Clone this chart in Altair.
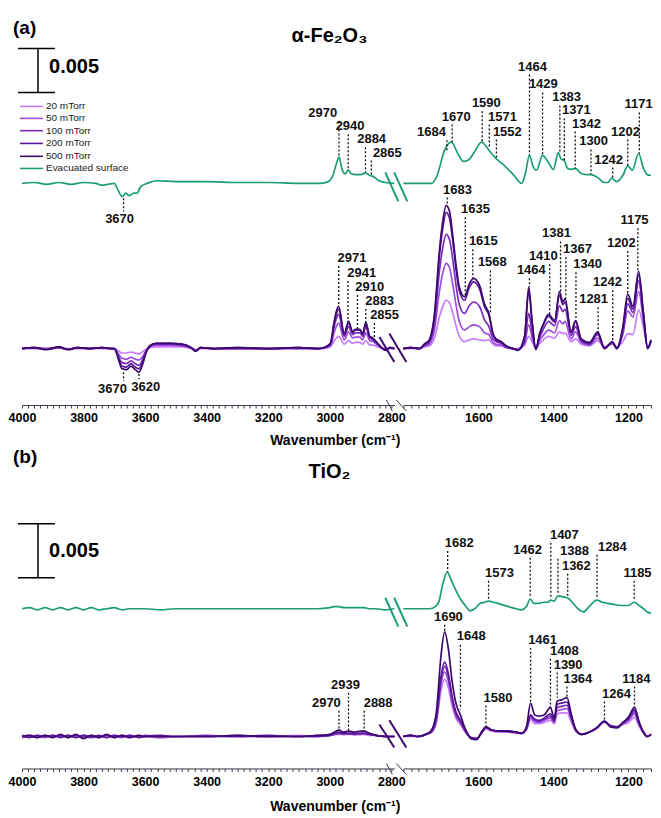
import altair as alt
import pandas as pd

FONT = "Liberation Sans"
SERIES = ["20 mTorr", "50 mTorr", "100 mTorr", "200 mTorr", "500 mTorr", "Evacuated surface"]
COLORS = ["#c77dff", "#9d4edd", "#7b2cbf", "#5a189a", "#3c096c", "#1b9e77"]

LEFT_DOMAIN = [2790, 4000]
RIGHT_DOMAIN = [1140, 1800]
LEFT_W, RIGHT_W, GAP = 373, 248, 9
LEFT_LABELS = [4000, 3800, 3600, 3400, 3200, 3000, 2800]
RIGHT_LABELS = [1600, 1400, 1200]
MINOR_STEP = 20

# ---------------- panel (a) alpha-Fe2O3 : absorbance in units of 1e-4 ----------------
A_L_WN = [4000, 3960, 3920, 3880, 3850, 3820, 3780, 3740, 3710, 3700, 3685, 3675, 3660, 3646, 3632, 3620,
          3610, 3598, 3585, 3565, 3520, 3480, 3450, 3435, 3420, 3380, 3300, 3200, 3100, 3040, 3020, 2998,
          2987, 2979, 2971, 2953, 2939, 2925, 2918, 2902, 2893, 2883, 2870, 2860, 2844, 2828, 2817, 2805, 2790]
A_L_20 = [0, 0, 0, 1, 0, 0, 0, 0, 0, 0, -3, -5, -5, -4, -5, -6, -4, -1, 1, 2, 2, 2, 0, -1, 0, 0, 0, 0, 0, 0,
          0, 2, 8, 12, 14, 5, 9, 6, 7, 7, 5, 9, 4, 4, 2, 0, 0, 0, 0]
A_L_50 = [0, 1, 0, 1, -1, 1, 0, 1, 0, 0, -7, -11, -12, -10, -12, -13, -10, -3, 2, 4, 4, 3, 1, -2, 1, 0, 0, 0, 0, 0,
          1, 3, 17, 25, 29, 10, 19, 12, 13, 13, 10, 18, 9, 8, 4, 0, -1, 1, 0]
A_L_100 = [0, 1, -1, 1, -1, 1, 0, 1, 0, 0, -10, -16, -17, -14, -17, -19, -14, -4, 2, 5, 5, 4, 1, -2, 1, 0, 0, 0, 1, 0,
           1, 5, 23, 34, 39, 14, 25, 16, 18, 18, 14, 25, 12, 10, 5, 0, -1, 1, 0]
A_L_200 = [0, 1, -1, 2, -1, 1, 0, 1, 0, 0, -12, -20, -21, -17, -21, -23, -17, -5, 3, 6, 6, 5, 1, -3, 1, 0, 1, 0, 1, 0,
           1, 5, 26, 39, 45, 16, 29, 18, 21, 21, 16, 28, 13, 11, 5, 0, -2, 1, 0]
A_L_500 = [0, 1, -1, 2, -1, 1, 0, 1, 0, 0, -14, -23, -24, -20, -24, -27, -20, -6, 3, 6, 6, 5, 1, -3, 1, 0, 1, 0, 1, 0,
           1, 6, 28, 42, 48, 17, 31, 19, 22, 22, 17, 30, 14, 12, 6, 0, -2, 1, 0]

A_R_WN = [1800, 1780, 1757, 1744, 1731, 1717, 1704, 1695, 1686, 1677, 1668, 1659, 1651, 1637, 1624, 1613, 1597,
          1584, 1572, 1561, 1553, 1539, 1526, 1508, 1495, 1477, 1466, 1457, 1447, 1437, 1427, 1413, 1397, 1384,
          1375, 1369, 1353, 1341, 1326, 1304, 1282, 1264, 1243, 1231, 1215, 1202, 1188, 1173, 1160, 1149, 1140]
A_R_20 = [0, 0, 0, 2, 3, 12, 36, 48, 55, 52, 40, 25, 14, 8, 10, 11, 10, 9, 10, 5, 3, 3, 1, 0, 0, 4, 14, 8, 1, 6,
          10, 14, 12, 19, 17, 18, 8, 11, 5, 3, 9, 2, 5, 2, 8, 17, 16, 44, 24, 2, 6]
A_R_50 = [0, 1, 0, 3, 5, 22, 65, 86, 97, 92, 72, 48, 31, 21, 25, 27, 25, 18, 16, 7, 5, 4, 1, 0, -1, 6, 27, 13, 0, 9,
          15, 21, 18, 32, 28, 31, 11, 19, 7, 4, 12, 1, 6, 1, 16, 43, 36, 65, 31, 1, 8]
A_R_100 = [0, 1, 0, 4, 7, 30, 88, 115, 130, 124, 100, 70, 50, 40, 49, 53, 48, 33, 25, 11, 8, 6, 2, 0, -1, 8, 40, 19,
           0, 12, 22, 31, 26, 49, 42, 45, 15, 25, 9, 5, 16, 1, 7, 1, 20, 51, 41, 77, 36, 1, 9]
A_R_200 = [0, 1, 0, 5, 9, 37, 105, 137, 155, 148, 121, 88, 66, 55, 70, 76, 68, 48, 38, 16, 10, 7, 3, 0, -2, 13, 65,
           30, -1, 16, 27, 37, 30, 61, 50, 53, 18, 31, 10, 6, 18, 0, 7, 0, 23, 57, 45, 84, 38, 0, 9]
A_R_500 = [0, 1, 0, 5, 10, 40, 111, 145, 163, 156, 127, 93, 70, 59, 74, 80, 72, 51, 40, 17, 11, 8, 3, 0, -2, 14, 70,
           32, -1, 17, 28, 39, 32, 65, 53, 57, 19, 32, 11, 7, 19, 0, 8, 0, 25, 62, 48, 88, 40, 0, 10]

A_EVAC_L_WN = [4000, 3960, 3920, 3880, 3840, 3800, 3760, 3742, 3720, 3700, 3690, 3674, 3663, 3652, 3636, 3626,
               3615, 3594, 3562, 3500, 3400, 3300, 3200, 3100, 3030, 3005, 2990, 2978, 2970, 2960, 2950, 2940,
               2930, 2915, 2900, 2884, 2870, 2860, 2840, 2820, 2790]
A_EVAC_L = [0, 1, -1, 1, -1, 1, 0, -2, -1, 0, -6, -15, -11, -14, -11, -11, -4, 0, 3, 2, 2, 1, 1, 0, 0, 2, 9, 23,
            30, 16, 11, 15, 11, 10, 10, 12, 9, 8, 3, 1, 0]
A_EVAC_R_WN = [1800, 1760, 1725, 1710, 1691, 1672, 1655, 1640, 1629, 1610, 1592, 1576, 1565, 1552, 1530, 1505,
               1485, 1475, 1464, 1455, 1445, 1429, 1415, 1400, 1387, 1380, 1371, 1362, 1352, 1342, 1325, 1310,
               1300, 1280, 1265, 1255, 1245, 1232, 1215, 1202, 1190, 1173, 1160, 1150, 1140]
A_EVAC_R = [0, 0, 0, 9, 37, 47, 34, 25, 26, 36, 47, 40, 34, 28, 20, 9, 0, 11, 32, 20, 15, 32, 25, 16, 35, 28, 26,
            17, 16, 17, 11, 10, 10, 6, 1, 1, 6, 2, 9, 20, 15, 34, 17, 10, 9]
A_EVAC_OFFSET = 188

# peak labels, panel (a)
A_PL_PEAKS = [2971, 2941, 2910, 2883, 2855]
A_PL_LX = [2928, 2896, 2870, 2838, 2822]
A_PL_LY = [103, 86, 70, 54, 38]
A_PL_TOP = [94, 77, 61, 45, 29]
A_PL_BOT = [48, 30, 21, 29, 13]
A_PD_PEAKS = [3670, 3620]
A_PD_LX = [3706, 3598]
A_PD_LY = [-46, -44]
A_PD_TOP = [-27, -29]
A_PD_BOT = [-37, -35]
A_PR_PEAKS = [1683, 1635, 1615, 1568, 1464, 1410, 1381, 1367, 1340, 1281, 1242, 1202, 1175]
A_PR_LX = [1656, 1608, 1587, 1563, 1459, 1427, 1392, 1336, 1309, 1293, 1256, 1219, 1184]
A_PR_LY = [181, 158.5, 122, 98, 89, 105, 131, 113, 96, 56, 75.6, 120, 146]
A_PR_TOP = [172, 149.4, 113, 89, 80, 96, 122, 104, 87, 47, 66.5, 111, 137]
A_PR_BOT = [163, 58.5, 80, 40.3, 70, 38, 63, 57, 32, 17.6, 7.4, 62, 87]
A_GL_PEAKS = [2970, 2940, 2884, 2865]
A_GL_LX = [3023, 2934, 2864, 2813]
A_GL_LY = [267.6, 252.8, 238, 223]
A_GL_TOP = [258.5, 243.8, 229, 214]
A_GL_BOT = [218.8, 202.8, 200.6, 197]
A_GD_PEAKS = [3670]
A_GD_LX = [3683]
A_GD_LY = [147]
A_GD_TOP = [171]
A_GD_BOT = [156]
A_GR_PEAKS = [1684, 1670, 1590, 1571, 1552, 1464, 1429, 1383, 1371, 1342, 1300, 1242, 1202, 1171]
A_GR_LX = [1725, 1659, 1579, 1536, 1523, 1456, 1427, 1365, 1339, 1312, 1293, 1253, 1208, 1173]
A_GR_LY = [246, 264, 279, 264, 247, 321, 300.6, 285.8, 271, 256, 235.8, 215, 247, 277.8]
A_GR_TOP = [237, 255, 270, 255, 238, 312, 291.5, 276.7, 262, 247, 226.7, 206, 238, 268.8]
A_GR_BOT = [225.6, 234.7, 234.7, 228, 216.5, 220, 220, 223.3, 214, 205, 198.3, 193.8, 208.5, 222]

# ---------------- panel (b) TiO2 ----------------
B_L_WN = [4000, 3975, 3950, 3925, 3900, 3875, 3850, 3825, 3800, 3775, 3750, 3725, 3700, 3675, 3650, 3620, 3600,
          3550, 3500, 3400, 3300, 3200, 3100, 3040, 3000, 2985, 2970, 2955, 2939, 2920, 2900, 2888, 2870, 2850,
          2820, 2790]
B_L_20 = [-1, 0, 1, 0, -1, 1, 0, 0, -1, 1, 0, -1, 1, 0, -1, 1, 0, 0, 0, 0, 0, 0, 1, 0, 1, 2, 2, 2, 2, 2, 2, 2, 1,
          1, 0, 0]
B_L_50 = [0, 1, 0, -1, 1, 0, 1, -1, 1, 0, -1, 1, 0, -1, 1, 0, 0, -1, 0, 0, 1, 0, 0, 0, 1, 2, 3, 2, 3, 2, 2, 3, 2,
          1, 0, 0]
B_L_100 = [1, 0, -1, 1, 0, 1, -1, 1, 0, -1, 0, 1, -1, 1, 0, 0, 1, 0, 0, 1, 0, 0, 0, 1, 1, 2, 3, 3, 3, 2, 3, 3, 2,
           1, 0, 0]
B_L_200 = [0, -1, 1, 0, 1, -1, 1, -1, 1, 0, 1, -1, 1, 0, 1, -1, 0, 1, 0, 0, 0, 1, 0, 0, 1, 3, 4, 3, 3, 3, 3, 3, 2,
           1, 0, 0]
B_L_500 = [0, 1, -1, 1, -1, 2, -1, 2, -2, 1, -1, 2, -1, 1, -1, 1, 0, 0, 0, 0, 1, 0, 0, 1, 2, 4, 6, 4, 5, 4, 5, 5,
           3, 1, 0, 0]
B_R_WN = [1800, 1780, 1760, 1740, 1725, 1712, 1700, 1690, 1680, 1670, 1660, 1648, 1635, 1620, 1605, 1590, 1580,
          1565, 1545, 1520, 1500, 1485, 1472, 1461, 1450, 1438, 1425, 1408, 1398, 1390, 1378, 1364, 1352, 1340,
          1325, 1305, 1285, 1264, 1248, 1230, 1215, 1200, 1184, 1172, 1160, 1150, 1140]
B_R_20 = [0, 0, 0, 2, 4, 13, 42, 53, 45, 28, 17, 11, 4, -1, -2, 4, 7, 5, 4, 4, 3, 3, 6, 16, 12, 12, 13, 15, 12,
          21, 22, 22, 13, 5, 2, 4, 7, 13, 10, 9, 11, 13, 18, 10, 3, 0, 2]
B_R_50 = [0, 1, 0, 2, 4, 15, 48, 60, 51, 32, 19, 13, 5, -1, -2, 4, 8, 6, 5, 4, 4, 3, 7, 18, 14, 13, 15, 17, 13,
          24, 25, 26, 15, 5, 2, 4, 8, 14, 10, 9, 12, 15, 21, 11, 4, 0, 2]
B_R_100 = [0, 1, 0, 2, 5, 17, 52, 65, 55, 35, 21, 14, 5, -1, -2, 4, 8, 6, 5, 5, 4, 3, 7, 19, 15, 14, 16, 19, 14,
           27, 28, 29, 17, 6, 2, 4, 8, 14, 10, 9, 12, 16, 23, 12, 4, 0, 2]
B_R_200 = [0, 1, 0, 2, 5, 18, 55, 69, 58, 37, 23, 15, 6, -1, -2, 5, 9, 6, 5, 5, 4, 3, 8, 20, 16, 15, 17, 21, 15,
           30, 31, 32, 18, 6, 2, 4, 8, 14, 10, 9, 13, 17, 25, 13, 4, 0, 2]
B_R_500 = [0, 1, 0, 2, 6, 23, 74, 97, 81, 51, 31, 20, 7, -2, -3, 5, 9, 6, 5, 5, 4, 3, 9, 31, 20, 19, 20, 27, 17,
           33, 34, 36, 20, 6, 2, 4, 8, 14, 9, 8, 13, 18, 27, 14, 4, 0, 2]
B_EVAC_L = [0, 1, -1, 1, -1, 1, -1, 1, -1, 1, -1, 0, 1, -1, 0, 0, 0, -1, 0, 0, 0, 0, 0, 0, 1, 2, 2, 1, 1, 1, 1, 1,
            0, 0, -1, 0]
B_EVAC_R_WN = [1800, 1760, 1730, 1715, 1705, 1695, 1683, 1672, 1660, 1648, 1635, 1622, 1610, 1595, 1583, 1573,
               1560, 1540, 1520, 1500, 1485, 1472, 1462, 1452, 1440, 1425, 1415, 1407, 1398, 1388, 1375, 1362,
               1350, 1335, 1320, 1305, 1284, 1270, 1255, 1240, 1220, 1200, 1185, 1172, 1160, 1150, 1140]
B_EVAC_R = [0, 0, 0, 2, 7, 23, 34, 26, 17, 9, 3, -2, 0, 5, 6, 7, 6, 4, 2, 0, -1, 2, 9, 5, 5, 6, 6, 8, 7, 12, 11,
            10, 6, 0, -3, 2, 8, 6, 5, 4, 3, 3, 6, 3, 0, -3, -4]
B_EVAC_OFFSET = 118.5

B_PL_PEAKS = [2970, 2939, 2888]
B_PL_LX = [3011, 2949, 2843]
B_PL_LY = [31.5, 48, 31.5]
B_PL_TOP = [24, 40.7, 24]
B_PL_BOT = [6.5, 3.7, 4.6]
B_PR_PEAKS = [1690, 1648, 1580, 1461, 1408, 1390, 1364, 1264, 1184]
B_PR_LX = [1680, 1619, 1548, 1429, 1371, 1361, 1335, 1232, 1179]
B_PR_LY = [111, 92.9, 36, 89.8, 79.6, 66.7, 53.7, 39.8, 53.7]
B_PR_TOP = [103.7, 85, 28.7, 82.2, 72.2, 59.3, 46.3, 32.4, 46.3]
B_PR_BOT = [97, 25, 9.3, 31.5, 27, 36, 36, 13.9, 26.9]
B_GR_PEAKS = [1682, 1573, 1462, 1407, 1388, 1362, 1284, 1185]
B_GR_LX = [1651, 1544, 1469, 1371, 1344, 1339, 1243, 1176]
B_GR_LY = [179.6, 151.9, 173, 187, 172, 158.3, 175.9, 151.9]
B_GR_TOP = [172, 144.4, 165.7, 179.6, 164.8, 151, 168.5, 144.4]
B_GR_BOT = [152.8, 126.9, 128.7, 127.8, 131.5, 129.6, 127.8, 125.9]

A_YDOM, A_H = [-64.2, 386.9], 397
B_YDOM, B_H = [-29.6, 275.0], 329


def spectra_frame(evac_wn, evac_vals, offset, p_wn, p_vals):
    rows = []
    for i, (w, v) in enumerate(zip(evac_wn, evac_vals)):
        rows.append({"wn": w, "y": v + offset, "series": SERIES[5], "i": i})
    for name, vals in zip(SERIES[:5], p_vals):
        for i, (w, v) in enumerate(zip(p_wn, vals)):
            rows.append({"wn": w, "y": v, "series": name, "i": i})
    return pd.DataFrame(rows)


def ann_frame(peaks, lx, ly, top, bot):
    return pd.DataFrame({"peak": peaks, "label": [str(p) for p in peaks],
                         "lx": lx, "ly": ly, "top": top, "bot": bot})


COLOR = alt.Color("series:N", scale=alt.Scale(domain=SERIES, range=COLORS), legend=None)


def make_panel(domain, width, labels, ydom, height, spectra, anns, extras):
    ticks = list(range(domain[1] - domain[1] % MINOR_STEP, domain[0] - 1, -MINOR_STEP))
    xs = alt.Scale(domain=domain, reverse=True, nice=False, zero=False)
    ys = alt.Scale(domain=ydom, nice=False, zero=False)
    axis = alt.Axis(values=ticks, title=None, grid=False, tickSize=3, labelPadding=4,
                    labelFlush=False, labelOverlap=False,
                    labelExpr=f"indexof({labels}, datum.value) >= 0 ? format(datum.value, 'd') : ''",
                    labelFont=FONT, labelFontSize=12.5, labelFontWeight="bold", labelColor="#000",
                    domainColor="#3a3a4a", tickColor="#3a3a4a", domainWidth=1, tickWidth=1)

    def X(f):
        return alt.X(f, type="quantitative", scale=xs, axis=axis)

    def Y(f):
        return alt.Y(f, type="quantitative", scale=ys, axis=None)

    layers = [alt.Chart(spectra).mark_line(interpolate="monotone", strokeWidth=1.7, strokeJoin="round").encode(
        x=X("wn"), y=Y("y"), color=COLOR, order="i:Q")]
    for a in anns:
        layers.append(alt.Chart(a).mark_rule(strokeDash=[2, 2], strokeWidth=1.3, color="#111").encode(
            x=X("peak"), y=Y("top"), y2="bot"))
        layers.append(alt.Chart(a).mark_text(font=FONT, fontWeight="bold", fontSize=13, color="#111",
                                             align="center", baseline="middle").encode(
            x=X("lx"), y=Y("ly"), text="label:N"))
    for e in extras:
        layers.append(e(X, Y))
    return alt.layer(*layers).properties(width=width, height=height)


def slashes(green_y, purple_y, axis_y):
    df = pd.DataFrame({
        "x": [2819.5, 2790.6, 2838.9, 2806.5],
        "x2": [2777.3, 2748.1, 2790.3, 2751.3],
        "y": [green_y[0], green_y[0], purple_y[0], purple_y[0] + 4],
        "y2": [green_y[1], green_y[1], purple_y[1], purple_y[1]],
        "series": [SERIES[5], SERIES[5], SERIES[4], SERIES[4]],
    })
    ax = pd.DataFrame({"x": [2816, 2783.8], "x2": [2796.7, 2751.3],
                       "y": [axis_y[0], axis_y[0]], "y2": [axis_y[1], axis_y[1]]})

    def build(X, Y):
        s = alt.Chart(df).mark_rule(strokeWidth=2).encode(x=X("x"), x2="x2", y=Y("y"), y2="y2", color=COLOR)
        a = alt.Chart(ax).mark_rule(strokeWidth=1, color="#3a3a4a").encode(x=X("x"), x2="x2", y=Y("y"), y2="y2")
        return alt.layer(s, a)
    return build


def scale_bar(bottom, top, text_y):
    df = pd.DataFrame({"x": [3948, 4013, 4013], "x2": [3948, 3893, 3893],
                       "y": [bottom, top, bottom], "y2": [top, top, bottom]})
    tx = pd.DataFrame({"x": [3912], "y": [text_y], "t": ["0.005"]})

    def build(X, Y):
        r = alt.Chart(df).mark_rule(strokeWidth=1.5, color="#000").encode(x=X("x"), x2="x2", y=Y("y"), y2="y2")
        t = alt.Chart(tx).mark_text(font=FONT, fontWeight="bold", fontSize=20, align="left",
                                    baseline="middle", color="#000").encode(x=X("x"), y=Y("y"), text="t:N")
        return alt.layer(r, t)
    return build


def titles(tag, tag_y, name, name_y, xlabel_y):
    d1 = pd.DataFrame({"x": [4029], "y": [tag_y], "t": [tag]})
    d2 = pd.DataFrame({"x": [3001], "y": [name_y], "t": [name]})
    d3 = pd.DataFrame({"x": [2982], "y": [xlabel_y], "t": ["Wavenumber (cm\u207b\u00b9)"]})

    def build(X, Y):
        a = alt.Chart(d1).mark_text(font=FONT, fontWeight="bold", fontSize=19, align="left",
                                    baseline="middle", color="#000").encode(x=X("x"), y=Y("y"), text="t:N")
        b = alt.Chart(d2).mark_text(font=FONT, fontWeight="bold", fontSize=20, align="center",
                                    baseline="middle", color="#000").encode(x=X("x"), y=Y("y"), text="t:N")
        c = alt.Chart(d3).mark_text(font=FONT, fontWeight="bold", fontSize=14, align="center",
                                    baseline="middle", color="#000").encode(x=X("x"), y=Y("y"), text="t:N")
        return alt.layer(a, b, c)
    return build


def legend():
    df = pd.DataFrame({"x": [4006.5] * 6, "x2": [3931.9] * 6,
                       "y": [275.6, 262, 248, 233.5, 218.8, 205], "series": SERIES, "tx": [3922] * 6})

    def build(X, Y):
        r = alt.Chart(df).mark_rule(strokeWidth=1.6).encode(x=X("x"), x2="x2", y=Y("y"), color=COLOR)
        t = alt.Chart(df).mark_text(font=FONT, fontSize=10, align="left", baseline="middle",
                                    color="#222").encode(x=X("tx"), y=Y("y"), text="series:N")
        return alt.layer(r, t)
    return build


# ---------- assemble panel (a) ----------
a_left = make_panel(
    LEFT_DOMAIN, LEFT_W, LEFT_LABELS, A_YDOM, A_H,
    spectra_frame(A_EVAC_L_WN, A_EVAC_L, A_EVAC_OFFSET, A_L_WN, [A_L_20, A_L_50, A_L_100, A_L_200, A_L_500]),
    [ann_frame(A_PL_PEAKS, A_PL_LX, A_PL_LY, A_PL_TOP, A_PL_BOT),
     ann_frame(A_PD_PEAKS, A_PD_LX, A_PD_LY, A_PD_TOP, A_PD_BOT),
     ann_frame(A_GL_PEAKS, A_GL_LX, A_GL_LY, A_GL_TOP, A_GL_BOT),
     ann_frame(A_GD_PEAKS, A_GD_LX, A_GD_LY, A_GD_TOP, A_GD_BOT)],
    [slashes((200.6, 167.6), (13.1, -15.3), (-58.5, -71)),
     scale_bar(291.5, 341.5, 321),
     titles("(a)", 365, "\u03b1-Fe\u2082O\u2083", 356, -105),
     legend()])
a_right = make_panel(
    RIGHT_DOMAIN, RIGHT_W, RIGHT_LABELS, A_YDOM, A_H,
    spectra_frame(A_EVAC_R_WN, A_EVAC_R, A_EVAC_OFFSET, A_R_WN, [A_R_20, A_R_50, A_R_100, A_R_200, A_R_500]),
    [ann_frame(A_PR_PEAKS, A_PR_LX, A_PR_LY, A_PR_TOP, A_PR_BOT),
     ann_frame(A_GR_PEAKS, A_GR_LX, A_GR_LY, A_GR_TOP, A_GR_BOT)],
    [])

# ---------- assemble panel (b) ----------
b_left = make_panel(
    LEFT_DOMAIN, LEFT_W, LEFT_LABELS, B_YDOM, B_H,
    spectra_frame(B_L_WN, B_EVAC_L, B_EVAC_OFFSET, B_L_WN, [B_L_20, B_L_50, B_L_100, B_L_200, B_L_500]),
    [ann_frame(B_PL_PEAKS, B_PL_LX, B_PL_LY, B_PL_TOP, B_PL_BOT)],
    [slashes((128.7, 101.9), (11.1, -10.2), (-25, -35.2)),
     scale_bar(147.2, 197.2, 172.2),
     titles("(b)", 259, "TiO\u2082", 245, -65.7)])
b_right = make_panel(
    RIGHT_DOMAIN, RIGHT_W, RIGHT_LABELS, B_YDOM, B_H,
    spectra_frame(B_EVAC_R_WN, B_EVAC_R, B_EVAC_OFFSET, B_R_WN, [B_R_20, B_R_50, B_R_100, B_R_200, B_R_500]),
    [ann_frame(B_PR_PEAKS, B_PR_LX, B_PR_LY, B_PR_TOP, B_PR_BOT),
     ann_frame(B_GR_PEAKS, B_GR_LX, B_GR_LY, B_GR_TOP, B_GR_BOT)],
    [])

chart = alt.concat(a_left, a_right, b_left, b_right, columns=2, bounds="flush",
                   spacing={"row": 35, "column": GAP}).properties(
    padding={"left": 0, "top": 0, "right": 0, "bottom": 0}, background="white"
).configure_view(stroke=None)

chart.save("out.html", embed_options={"renderer": "svg", "actions": False})
